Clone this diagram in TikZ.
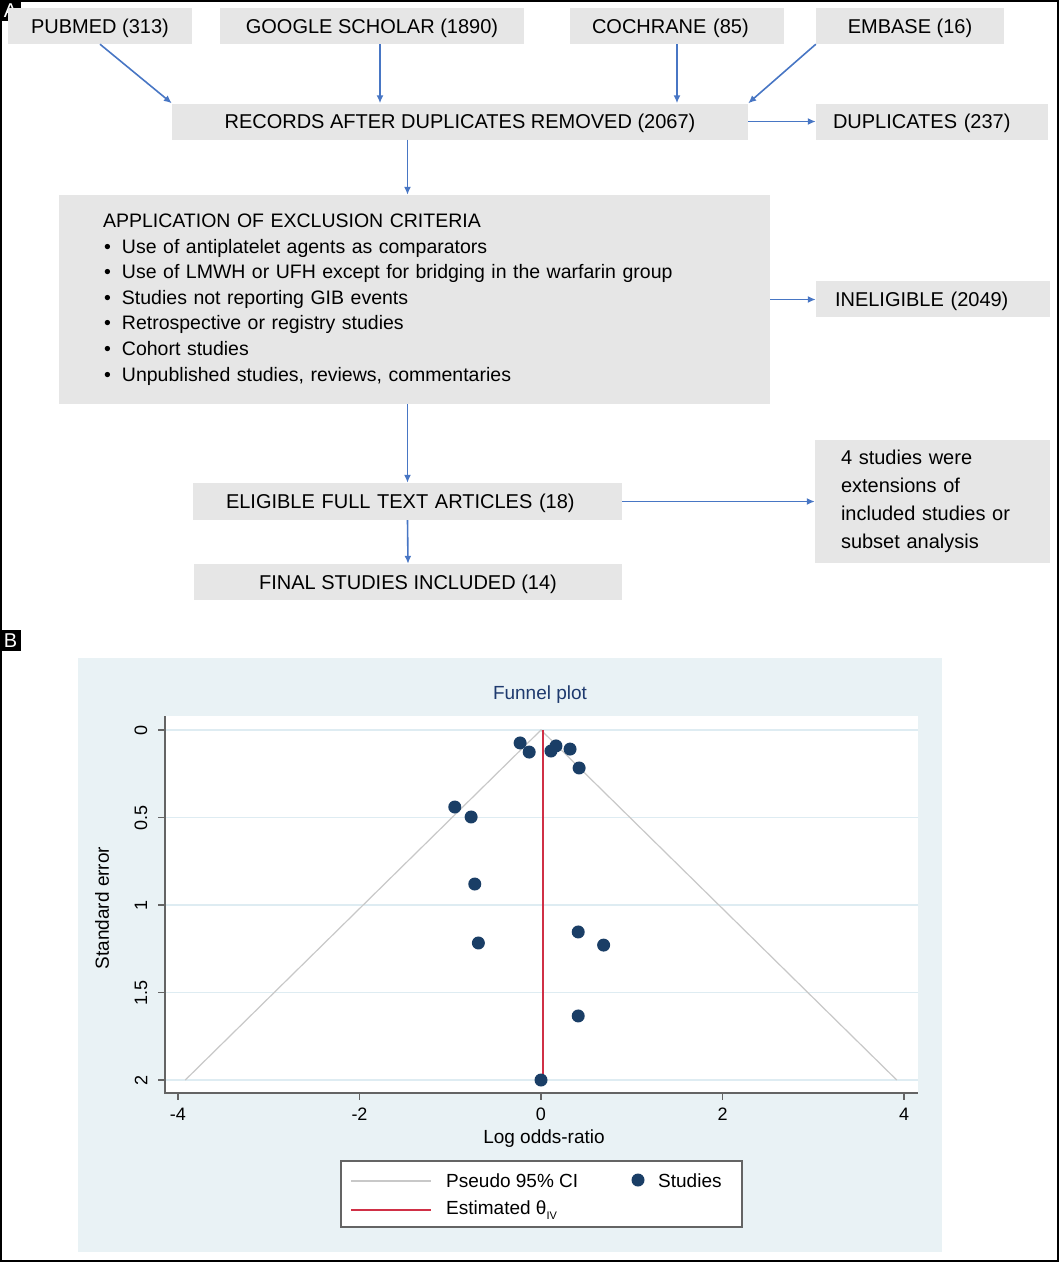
\documentclass[tikz,border=0pt]{standalone}
\usepackage{fontspec}
\setmainfont{Liberation Sans}
\usepackage{tikz}
\usetikzlibrary{positioning, calc, arrows.meta}

\definecolor{boxgray}{RGB}{230,230,230}
\definecolor{flowblue}{RGB}{72,118,196}
\definecolor{panelblue}{RGB}{233,242,245}
\definecolor{gridblue}{RGB}{222,236,242}
\definecolor{axisgray}{RGB}{100,100,100}
\definecolor{cigray}{RGB}{200,200,200}
\definecolor{estred}{RGB}{208,48,70}
\definecolor{dotblue}{RGB}{26,62,102}
\definecolor{titleblue}{RGB}{30,58,110}

\newcommand{\critem}{\makebox[18pt][l]{\textbullet}}

\tikzset{
  textbox/.style={fill=boxgray, inner sep=0pt, align=left},
  box/.style={fill=boxgray, inner sep=0pt, minimum height=36pt, text depth=0pt, font=\fontsize{20}{24}\selectfont},
  leftbox/.style={box, align=left, inner xsep=#1},
  flow/.style={draw=flowblue, line width=1.6pt, -{Latex[length=8pt,width=7pt]}},
  tag/.style={fill=black, text=white, minimum width=21pt, minimum height=21pt, inner sep=0pt, font=\fontsize{20}{20}\selectfont},
  plottext/.style={inner sep=0pt, font=\fontsize{19}{19}\selectfont},
}

\begin{document}
\begin{tikzpicture}[x=1pt, y=-1pt]
  \useasboundingbox (0,0) rectangle (1059,1262);
  % Frame and panel tags
  \draw[line width=1.5pt] (1,1) rectangle (1058,1261);
  \node[tag] (tagA) at (10.5,10.5) {A};
  \node[tag] (tagB) at (10.5,640.5) {B};

  % Sources
  \node[box, minimum width=184pt] (pubmed) at (100,26) {PUBMED (313)};
  \node[box, minimum width=304pt] (google) at (372,26) {GOOGLE SCHOLAR (1890)};
  \node[leftbox=22pt, text width=170pt] (cochrane) at (677,26) {COCHRANE (85)};
  \node[box, minimum width=188pt] (embase) at (910,26) {EMBASE (16)};
  % Screening
  \node[box, minimum width=576pt] (records) at (460,121.5) {RECORDS AFTER DUPLICATES REMOVED (2067)};
  \node[leftbox=17pt, text width=198pt] (dupl) at (932,121.5) {DUPLICATES (237)};
  \node[textbox, minimum height=209pt, text width=623pt, inner xsep=44pt,
        font=\fontsize{19.5}{25.6}\selectfont] (excl) at (414.5,299.5)
    {APPLICATION OF EXCLUSION CRITERIA\\
     \hspace*{1pt}\critem Use of antiplatelet agents as comparators\\
     \hspace*{1pt}\critem Use of LMWH or UFH except for bridging in the warfarin group\\
     \hspace*{1pt}\critem Studies not reporting GIB events\\
     \hspace*{1pt}\critem Retrospective or registry studies\\
     \hspace*{1pt}\critem Cohort studies\\
     \hspace*{1pt}\critem Unpublished studies, reviews, commentaries};
  \node[leftbox=19pt, text width=196pt] (inel) at (933,299) {INELIGIBLE (2049)};
  \node[leftbox=33pt, text width=363pt, minimum height=37pt] (elig) at (407.5,501.5) {ELIGIBLE FULL TEXT ARTICLES (18)};
  \node[textbox, minimum height=123pt, text width=183pt, inner xsep=26pt,
        font=\fontsize{20}{28}\selectfont] (ext) at (932.5,501.5)
    {4 studies were\\ extensions of\\ included studies or\\ subset analysis};
  \node[box, minimum width=428pt] (final) at (408,582) {FINAL STUDIES INCLUDED (14)};

  % Arrows
  \draw[flow] (pubmed.south) -- (records.north west);
  \draw[flow] ([xshift=8pt]google.south) -- ([xshift=8pt]google.south |- records.north);
  \draw[flow] (cochrane.south) -- (cochrane.south |- records.north);
  \draw[flow] (embase.south west) -- (records.north east);
  \draw[flow] (records.east) -- (dupl.west);
  \draw[flow] (records.south -| elig.north) -- (excl.north -| elig.north);
  \draw[flow] (excl.east) -- (excl.east -| inel.west);
  \draw[flow] (excl.south -| elig.north) -- (elig.north);
  \draw[flow] (elig.east) -- (ext.west);
  \draw[flow] (elig.south) -- (final.north);

  % Funnel plot background
  \fill[panelblue] (78,658) rectangle (942,1252);
  \fill[white] (165,716) rectangle (918,1093);
  \node[plottext, text=titleblue] (title) at (540,695) {Funnel plot};

  \begin{scope}[shift={(541pt,-730pt)}, x=90.75pt, y=-175pt]
    % Grid and axes
    \foreach \s in {0,0.5,1,1.5,2}
      \draw[gridblue, line width=1.2pt] (-4.143,\s) -- (4.154,\s);
    \draw[axisgray, line width=1.5pt] (-4.143,-0.08) -- (-4.143,2.074) -- (4.154,2.074);
    \foreach \s in {0,0.5,1,1.5,2} {
      \draw[axisgray, line width=1.2pt] (-4.143,\s) -- ++(-7pt,0);
      \node[plottext, rotate=90, font=\fontsize{18}{18}\selectfont] at (-4.408,\s) {\s};
    }
    \foreach \v in {-4,-2,0,2,4} {
      \draw[axisgray, line width=1.2pt] (\v,2.074) -- ++(0,-7pt);
      \node[plottext, font=\fontsize{18}{18}\selectfont] at (\v,2.194) {\v};
    }
    % Pseudo CI and estimate
    \draw[cigray, line width=1.2pt] (-3.92,2) -- (0,0) -- (3.92,2);
    \draw[estred, line width=1.6pt] (0.02,0) -- (0.02,2);
    % Studies
    \foreach \lor/\se in {-0.23/0.074, -0.13/0.126, 0.11/0.12, 0.165/0.091, 0.32/0.109,
                          0.42/0.217, -0.95/0.44, -0.77/0.497, -0.73/0.88, -0.69/1.217,
                          0.41/1.154, 0.69/1.229, 0.41/1.634, 0/2}
      \fill[dotblue] (\lor,\se) circle (6.5pt);
  \end{scope}

  % Axis titles
  \node[plottext, rotate=90] (ylab) at (102,908) {Standard error};
  \node[plottext] (xlab) at (544,1139) {Log odds-ratio};

  % Legend
  \draw[fill=white, draw=axisgray, line width=1.5pt] (341,1161) rectangle (742,1227);
  \draw[cigray, line width=1.5pt] (351,1181) -- (431,1181);
  \node[plottext, anchor=west] (ci) at (446,1181) {Pseudo 95\% CI};
  \fill[dotblue] (638,1180) circle (6.5pt);
  \node[plottext, anchor=west] (stud) at (658,1181) {Studies};
  \draw[estred, line width=1.5pt] (351,1210) -- (431,1210);
  \node[plottext, anchor=west] (est) at (446,1210) {Estimated θ\raisebox{-5pt}{\fontsize{11}{11}\selectfont IV}};
\end{tikzpicture}
\end{document}
